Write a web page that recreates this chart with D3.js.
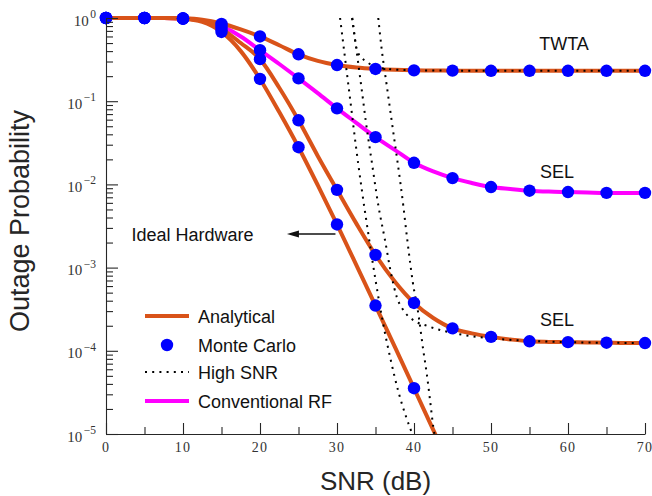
<!DOCTYPE html>
<html><head><meta charset="utf-8">
<script src="https://cdn.jsdelivr.net/npm/d3@7"></script>
<style>body{margin:0;background:#fff}svg{display:block}</style>
</head><body>
<svg id="c" width="652" height="496"></svg>
<script>
// ---------- data ----------
const snrA = [0,2.5,5,7.5,10,12.5,15,17.5,20,22.5,25,27.5,30,32.5,35,37.5,40,42.5,45,47.5,50,52.5,55,57.5,60,62.5,65,67.5,70];
const twtaA = [1,1,1,0.999,0.99,0.955,0.86,0.73,0.60,0.47,0.366,0.305,0.272,0.254,0.244,0.238,0.235,0.234,0.233,0.2325,0.232,0.232,0.232,0.232,0.232,0.232,0.232,0.232,0.232];
const convA = [1,1,1,0.998,0.985,0.93,0.80,0.60,0.41,0.28,0.188,0.125,0.082,0.055,0.037,0.026,0.0182,0.0143,0.0119,0.0104,0.0093,0.0088,0.0084,0.0082,0.0081,0.0080,0.0079,0.0079,0.0079];
const selA = [1,1,1,0.998,0.985,0.92,0.74,0.50,0.32,0.145,0.059,0.022,0.0086,0.0034,0.00142,0.00068,0.000376,0.000248,0.000186,0.000162,0.000147,0.000137,0.000130,0.000128,0.000127,0.000126,0.000125,0.000124,0.000124];
const snrIdeal = [0,2.5,5,7.5,10,12.5,15,17.5,20,22.5,25,27.5,30,32.5,35,37.5,40,42.5,45];
const idealA = [1,1,1,0.998,0.98,0.90,0.68,0.40,0.185,0.074,0.028,0.0098,0.0033,0.00108,0.00035,0.000112,0.0000355,0.0000112,0.0000036];

const snrMC = [0,5,10,15,20,25,30,35,40,45,50,55,60,65,70];
const twtaMC = [1,1,0.99,0.85,0.60,0.366,0.272,0.244,0.235,0.233,0.232,0.232,0.232,0.232,0.232];
const convMC = [1,1,0.985,0.80,0.41,0.188,0.082,0.037,0.0182,0.0119,0.0093,0.0084,0.0081,0.0079,0.0079];
const selMC = [1,1,0.985,0.74,0.32,0.059,0.0086,0.00142,0.000376,0.000186,0.000147,0.000130,0.000127,0.000125,0.000124];
const snrMCIdeal = [0,5,10,15,20,25,30,35,40];
const idealMC = [1,1,0.98,0.68,0.185,0.028,0.0033,0.00035,0.0000355];

// High-SNR approximations
const hsA_snr = [30.4,31.0,31.7,32.4,33.2,34.0,35.0,36.0,37.0,38.0,39.0,40.0];
const hsA_p   = [1,0.355,0.107,0.0316,0.0089,0.0028,0.00071,0.00021,0.000076,0.0000316,0.0000158,0.0000089];
const hsB_snr = [31.97,32.2,32.45,32.75,33.1,33.75,34.5,35.5,37,40,45,55,70];
const hsB_p   = [1,0.69,0.47,0.38,0.339,0.302,0.272,0.252,0.242,0.2355,0.2328,0.2317,0.2317];
const hsC_snr = [31.97,32.2,32.45,32.77,33.25,33.73,34.55,35.36,36.23,37.1,37.75,38.6,39.9,41.65,43.4,45.3,50,55,60,70];
const hsC_p   = [1,0.69,0.47,0.28,0.129,0.0583,0.0178,0.00565,0.00215,0.00078,0.000447,0.000309,0.000234,0.000200,0.000178,0.000162,0.000141,0.000132,0.000127,0.000124];
const hsD_snr = [35.36,35.8,36.45,37.1,38.6,39.13,39.83,40.56,41.2,41.65,42.08,42.5,42.8];
const hsD_p   = [1,0.424,0.157,0.0583,0.00565,0.00215,0.00068,0.00028,0.000102,0.0000537,0.0000257,0.0000123,0.0000085];

const xTicksMajor = [0,10,20,30,40,50,60,70];
const xTicksMinor = [5,15,25,35,45,55,65];
const xTickLabels = ["0","10","20","30","40","50","60","70"];
const yTicksMajor = [1e-5,1e-4,1e-3,1e-2,1e-1,1];
const yExpLabels = ["\u22125","\u22124","\u22123","\u22122","\u22121","0"];

const legendLabels = ["Analytical","Monte Carlo","High SNR","Conventional RF"];

// ---------- drawing ----------
const orange = "#d95319", magenta = "#ff00ff", blue = "#0000ff", ink = "#262626";
const svg = d3.select("#c");
const x = d3.scaleLinear().domain([0,70]).range([106,645]);
const y = d3.scaleLog().domain([1e-5,1]).range([434,18]);

svg.append("clipPath").attr("id","clip").append("rect")
  .attr("x",106).attr("y",8).attr("width",539).attr("height",426);

const gPlot = svg.append("g").attr("clip-path","url(#clip)");
const line = d3.line().curve(d3.curveMonotoneX).x(d=>x(d[0])).y(d=>y(d[1]));
const zip = (a,b)=>a.map((v,i)=>[v,b[i]]);

function drawLine(xs, ys, color, w, dash){
  const p = gPlot.append("path").attr("d", line(zip(xs,ys)))
    .attr("fill","none").attr("stroke",color).attr("stroke-width",w)
    .attr("stroke-linejoin","round");
  if(dash) p.attr("stroke-dasharray",dash);
  return p;
}
drawLine(snrA, convA, magenta, 4);
drawLine(snrA, twtaA, orange, 4);
drawLine(snrA, selA, orange, 4);
drawLine(snrIdeal, idealA, orange, 4);

const dots = "2,5.2";
drawLine(hsA_snr, hsA_p, "#000", 2, dots);
drawLine(hsB_snr, hsB_p, "#000", 2, dots);
drawLine(hsC_snr, hsC_p, "#000", 2, dots);
drawLine(hsD_snr, hsD_p, "#000", 2, dots);

function drawPts(xs, ys){
  svg.append("g").selectAll("circle").data(zip(xs,ys)).join("circle")
    .attr("cx",d=>x(d[0])).attr("cy",d=>y(d[1])).attr("r",6.2).attr("fill",blue);
}
drawPts(snrMC, twtaMC);
drawPts(snrMC, convMC);
drawPts(snrMC, selMC);
drawPts(snrMCIdeal, idealMC);

// axes
const gx = svg.append("g").attr("transform","translate(0,434)");
gx.call(d3.axisBottom(x).tickValues(xTicksMajor).tickSize(-11).tickSizeOuter(0).tickFormat(""));
const gx2 = svg.append("g").attr("transform","translate(0,434)");
gx2.call(d3.axisBottom(x).tickValues(xTicksMinor).tickSize(-7).tickSizeOuter(0).tickFormat(""));
gx2.select(".domain").remove();
const gy = svg.append("g").attr("transform","translate(106,0)");
gy.call(d3.axisLeft(y).tickValues(yTicksMajor).tickSize(-12).tickSizeOuter(0).tickFormat(""));
const minor = y.ticks().filter(v => Math.abs(Math.log10(v) - Math.round(Math.log10(v))) > 1e-6);
const gy2 = svg.append("g").attr("transform","translate(106,0)");
gy2.call(d3.axisLeft(y).tickValues(minor).tickSize(-7).tickSizeOuter(0).tickFormat(""));
gy2.select(".domain").remove();
svg.selectAll(".domain, .tick line").attr("stroke",ink).attr("stroke-width",1.1);

// tick labels
const serif = "'Liberation Serif','Times New Roman',serif";
svg.append("g").selectAll("text").data(xTicksMajor).join("text")
  .attr("x",d=>x(d)).attr("y",452).attr("text-anchor","middle")
  .attr("font-family",serif).attr("font-size",14).attr("fill","#333")
  .attr("letter-spacing",1.2)
  .text((d,i)=>xTickLabels[i]);
yTicksMajor.forEach((v,i)=>{
  const t = svg.append("text").attr("x",96).attr("y",y(v)+7.5).attr("text-anchor","end")
    .attr("font-family",serif).attr("fill","#333");
  t.append("tspan").attr("font-size",15).text("10");
  t.append("tspan").attr("font-size",11.5).attr("dy",-7.5).attr("dx",1.5).text(yExpLabels[i]);
});

// axis titles
const sans = "'Liberation Sans',Arial,Helvetica,sans-serif";
svg.append("text").attr("x",375.5).attr("y",490).attr("text-anchor","middle")
  .attr("font-family",sans).attr("font-size",26).attr("fill",ink).text("SNR (dB)");
svg.append("text").attr("transform","translate(28.5,221) rotate(-90)").attr("text-anchor","middle")
  .attr("font-family",sans).attr("font-size",27).attr("fill",ink).text("Outage Probability");

// annotations
function ann(txt, px, py, anchor){
  svg.append("text").attr("x",px).attr("y",py).attr("text-anchor",anchor||"middle")
    .attr("font-family",sans).attr("font-size",18).attr("fill","#111").text(txt);
}
ann("TWTA", 564, 50);
ann("SEL", 557, 178);
ann("SEL", 557, 326);
ann("Ideal Hardware", 131.5, 241, "start");
// arrow
svg.append("line").attr("x1",x(29.8)).attr("x2",x(24.6)).attr("y1",234).attr("y2",234)
  .attr("stroke","#111").attr("stroke-width",1.5);
const ax = x(23.5);
svg.append("path").attr("d",`M${ax},234 L${ax+12},230.5 L${ax+12},237.5 Z`).attr("fill","#111");

// legend
const lg = svg.append("g");
const ly = [316,345,372,401];
lg.append("line").attr("x1",145).attr("x2",189).attr("y1",ly[0]).attr("y2",ly[0]).attr("stroke",orange).attr("stroke-width",4);
lg.append("circle").attr("cx",167).attr("cy",ly[1]).attr("r",6.2).attr("fill",blue);
lg.append("line").attr("x1",145).attr("x2",189).attr("y1",ly[2]).attr("y2",ly[2]).attr("stroke","#000").attr("stroke-width",2).attr("stroke-dasharray",dots);
lg.append("line").attr("x1",145).attr("x2",189).attr("y1",ly[3]).attr("y2",ly[3]).attr("stroke",magenta).attr("stroke-width",4);
legendLabels.forEach((t,i)=>{
  lg.append("text").attr("x",198).attr("y",ly[i]+6.5).attr("font-family",sans).attr("font-size",18).attr("fill","#111").text(t);
});
</script>
</body></html>
